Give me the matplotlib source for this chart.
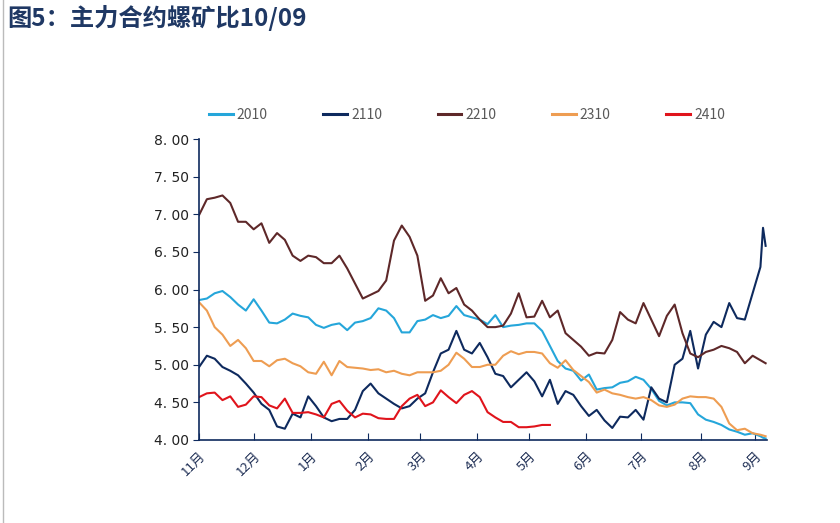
import numpy as np
import matplotlib
matplotlib.use("Agg")
import matplotlib.pyplot as plt

plt.rcParams['font.family'] = ['Noto Sans CJK SC', 'DejaVu Sans']

# trading-day index (every 3rd day, plus the last two days)
x_days = list(range(0, 217, 3)) + [217, 218]

# month start positions (trading-day index) and labels
month_pos = [0, 21, 43, 65, 85, 107, 127, 149, 170, 193, 214]
month_labels = ['11月', '12月', '1月', '2月', '3月', '4月', '5月', '6月', '7月', '8月', '9月']

s2010 = [5.86, 5.88, 5.95, 5.98, 5.90, 5.80, 5.72, 5.87, 5.72, 5.56,
         5.55, 5.60, 5.68, 5.65, 5.63, 5.53, 5.49, 5.53, 5.55, 5.46,
         5.56, 5.58, 5.62, 5.75, 5.72, 5.62, 5.43, 5.43, 5.58, 5.60,
         5.66, 5.62, 5.65, 5.78, 5.66, 5.63, 5.60, 5.54, 5.66, 5.50,
         5.52, 5.53, 5.55, 5.55, 5.45, 5.25, 5.05, 4.95, 4.92, 4.79,
         4.87, 4.67, 4.69, 4.70, 4.76, 4.78, 4.84, 4.80, 4.68, 4.52,
         4.46, 4.50, 4.50, 4.49, 4.34, 4.27, 4.24, 4.20, 4.14, 4.11,
         4.07, 4.09, 4.05, 4.03, 4.02]

s2110 = [4.97, 5.12, 5.08, 4.97, 4.92, 4.86, 4.75, 4.63, 4.48, 4.40,
         4.18, 4.15, 4.35, 4.30, 4.58, 4.45, 4.30, 4.25, 4.28, 4.28,
         4.40, 4.65, 4.75, 4.62, 4.55, 4.48, 4.42, 4.45, 4.55, 4.62,
         4.90, 5.15, 5.20, 5.45, 5.20, 5.15, 5.29, 5.10, 4.88, 4.85,
         4.70, 4.80, 4.90, 4.78, 4.58, 4.80, 4.48, 4.65, 4.60, 4.45,
         4.32, 4.40, 4.26, 4.16, 4.31, 4.30, 4.40, 4.27, 4.70, 4.55,
         4.50, 5.00, 5.08, 5.45, 4.95, 5.40, 5.57, 5.50, 5.82, 5.62,
         5.60, 5.95, 6.30, 6.82, 6.58]

s2210 = [6.99, 7.20, 7.22, 7.25, 7.15, 6.90, 6.90, 6.80, 6.88, 6.62,
         6.75, 6.66, 6.45, 6.38, 6.45, 6.43, 6.35, 6.35, 6.45, 6.28,
         6.08, 5.88, 5.93, 5.98, 6.12, 6.65, 6.85, 6.70, 6.45, 5.85,
         5.92, 6.15, 5.95, 6.02, 5.80, 5.72, 5.60, 5.50, 5.50, 5.52,
         5.68, 5.95, 5.63, 5.64, 5.85, 5.63, 5.72, 5.42, 5.33, 5.24,
         5.12, 5.16, 5.15, 5.33, 5.70, 5.60, 5.55, 5.82, 5.60, 5.38,
         5.65, 5.80, 5.42, 5.15, 5.10, 5.17, 5.20, 5.25, 5.22, 5.17,
         5.02, 5.12, 5.06, 5.04, 5.02]

s2310 = [5.83, 5.72, 5.50, 5.40, 5.25, 5.33, 5.22, 5.05, 5.05, 4.98,
         5.06, 5.08, 5.02, 4.98, 4.90, 4.88, 5.04, 4.86, 5.05, 4.97,
         4.96, 4.95, 4.93, 4.94, 4.90, 4.92, 4.88, 4.86, 4.90, 4.90,
         4.90, 4.92, 5.00, 5.16, 5.08, 4.97, 4.97, 5.00, 5.00, 5.12,
         5.18, 5.14, 5.17, 5.17, 5.15, 5.02, 4.96, 5.06, 4.93, 4.85,
         4.77, 4.63, 4.67, 4.62, 4.60, 4.57, 4.55, 4.57, 4.53, 4.46,
         4.44, 4.47, 4.55, 4.58, 4.57, 4.57, 4.55, 4.44, 4.22, 4.13,
         4.15, 4.09, 4.07, 4.06, 4.05]

s2410 = [4.57, 4.62, 4.63, 4.53, 4.58, 4.44, 4.47, 4.58, 4.57, 4.46,
         4.42, 4.55, 4.36, 4.36, 4.37, 4.34, 4.30, 4.48, 4.52, 4.39,
         4.30, 4.35, 4.34, 4.29, 4.28, 4.28, 4.45, 4.55, 4.60, 4.45,
         4.50, 4.66, 4.57, 4.49, 4.60, 4.65, 4.57, 4.37, 4.30, 4.24,
         4.24, 4.17, 4.17, 4.18, 4.20, 4.20]

series = [
    ('2010', s2010, '#25A6DA'),
    ('2110', s2110, '#0E2A5E'),
    ('2210', s2210, '#5E2829'),
    ('2310', s2310, '#EE9D52'),
    ('2410', s2410, '#E0141C'),
]

fig = plt.figure(figsize=(8.4, 5.23), dpi=100)
ax = fig.add_axes([0.237, 0.1587, 0.676, 0.5755])

for name, vals, col in series:
    ax.plot(x_days[:len(vals)], vals, color=col, lw=1.5, label=name)

ax.set_xlim(0, 218.5)
ax.set_ylim(4, 8)

yt = [4, 4.5, 5, 5.5, 6, 6.5, 7, 7.5, 8]
ax.set_yticks(yt)
ax.set_yticklabels([f"{v:.2f}".replace('.', '. ') for v in yt],
                   fontsize=10, color='#222222', family='DejaVu Sans')
ax.set_xticks(month_pos)
ax.set_xticklabels(month_labels, rotation=45, ha='right', va='top',
                   rotation_mode='anchor', fontsize=9.5, color='#1F2F55')

ax.tick_params(axis='y', direction='out', length=4, color='#0E2A5E', pad=3)
ax.tick_params(axis='x', direction='in', length=5, color='#0E2A5E', pad=7)

for s in ['top', 'right']:
    ax.spines[s].set_visible(False)
for s in ['left', 'bottom']:
    ax.spines[s].set_color('#0E2A5E')
    ax.spines[s].set_linewidth(1.2)

leg = fig.legend(loc='center', bbox_to_anchor=(0.556, 0.781), ncol=5,
                 frameon=False, fontsize=10, handlelength=1.7,
                 handletextpad=0.3, columnspacing=4.0)
for t in leg.get_texts():
    t.set_color('#595959')
for h in leg.get_lines():
    h.set_linewidth(2.2)

fig.text(0.009, 0.966, '图5：主力合约螺矿比10/09', fontsize=17.5, fontweight='bold',
         color='#1F3864', ha='left', va='center')

# thin gray frame line on the left edge
fig.add_artist(plt.Line2D([0.004, 0.004], [0, 1], color='#BBBBBB', lw=1,
                          transform=fig.transFigure))

plt.savefig('out.png', dpi=100)
